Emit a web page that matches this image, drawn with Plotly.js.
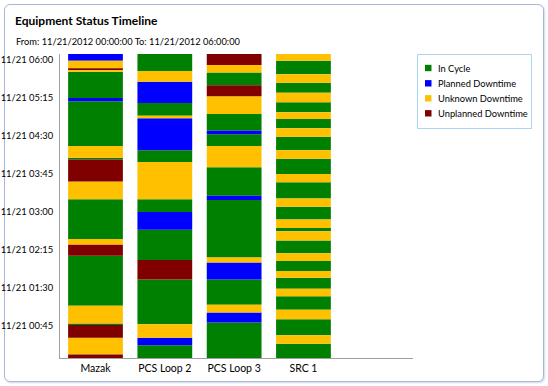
<!DOCTYPE html>
<html><head><meta charset="utf-8">
<script src="https://cdn.plot.ly/plotly-3.0.1.min.js"></script>
<style>
html,body{margin:0;padding:0;background:#fff;width:548px;height:386px;overflow:hidden;}
#frame{position:absolute;left:4px;top:4px;width:538px;height:376px;border:1px solid #a9b8d6;border-radius:6px;box-shadow:1px 1px 2px rgba(120,140,180,0.35);background:#fff;}
#chart{position:absolute;left:0;top:0;width:548px;height:386px;}
</style></head><body>
<div id="frame"></div><div id="chart"></div>
<script>
const machines = ['Mazak', 'PCS Loop 2', 'PCS Loop 3', 'SRC 1'];
const statusCodes = ['C', 'P', 'K', 'U'];
const statusNames = ['In Cycle', 'Planned Downtime', 'Unknown Downtime', 'Unplanned Downtime'];
const statusColors = ['#008000', '#0000ff', '#ffc000', '#800000'];

// minutes since 11/21/2012 00:00
const mazakEdges = [0, 4, 24, 39, 41, 62, 121, 134, 141, 188, 209, 235, 237, 251, 304, 308, 339, 341, 343, 352, 360];
const mazakStates = ['U', 'K', 'U', 'C', 'K', 'C', 'U', 'K', 'C', 'K', 'U', 'C', 'K', 'C', 'P', 'C', 'K', 'U', 'K', 'P'];

const loop2Edges = [0, 15, 24, 40, 93, 116, 152, 173, 188, 232, 246, 284, 287, 302, 327, 340, 360];
const loop2States = ['C', 'P', 'K', 'C', 'U', 'C', 'P', 'C', 'K', 'C', 'P', 'K', 'C', 'P', 'K', 'C'];

const loop3Edges = [0, 42, 54, 63, 93, 113, 119, 187, 192, 226, 251, 265, 269, 289, 310, 323, 338, 347, 360];
const loop3States = ['C', 'P', 'K', 'C', 'P', 'K', 'C', 'P', 'C', 'K', 'C', 'P', 'C', 'K', 'U', 'C', 'K', 'U'];

const src1Edges = [0, 17, 27, 46, 57, 73, 82, 95, 103, 115, 124, 139, 150, 154, 164, 179, 189, 208, 218, 236, 246, 262, 272, 283, 291, 303, 314, 326, 336, 352, 360];
const src1States = ['C', 'K', 'C', 'K', 'C', 'K', 'C', 'K', 'C', 'K', 'C', 'K', 'C', 'K', 'C', 'K', 'C', 'K', 'C', 'K', 'C', 'K', 'C', 'K', 'C', 'K', 'C', 'K', 'C', 'K'];

const tickVals = [45, 90, 135, 180, 225, 270, 315, 360];
const tickLabels = ['11/21 00:45', '11/21 01:30', '11/21 02:15', '11/21 03:00', '11/21 03:45', '11/21 04:30', '11/21 05:15', '11/21 06:00'];

const machineEdges = [mazakEdges, loop2Edges, loop3Edges, src1Edges];
const machineStates = [mazakStates, loop2States, loop3States, src1States];

const FONT = 'Lato, "Open Sans", sans-serif';

// plot-area geometry in pixels
const PL = 60, PR = 413, PT = 54, PB = 358;
const px = v => (v - PL) / (PR - PL);
const py = v => (PB - v) / (PB - PT);

const traces = statusCodes.map((code, si) => {
  const x = [], y = [], base = [];
  machineStates.forEach((states, mi) => {
    const edges = machineEdges[mi];
    states.forEach((s, k) => {
      if (s === code) {
        x.push(machines[mi]);
        base.push(edges[k]);
        y.push(edges[k + 1] - edges[k]);
      }
    });
  });
  return {
    type: 'bar', name: statusNames[si], x: x, y: y, base: base,
    width: 0.79, showlegend: false,
    marker: {color: statusColors[si], line: {width: 0}},
    hoverinfo: 'x+name'
  };
});

// custom legend (box, swatches, labels)
const shapes = [{
  type: 'rect', xref: 'paper', yref: 'paper',
  x0: px(417.5), x1: px(531.5), y0: py(54.5), y1: py(128.5),
  line: {color: '#a6d6f0', width: 1}, fillcolor: '#fff', layer: 'below'
}];
const annotations = [{
  text: 'From: 11/21/2012 00:00:00 To: 11/21/2012 06:00:00',
  xref: 'paper', yref: 'paper', x: px(14), y: py(41.5),
  xanchor: 'left', yanchor: 'middle', showarrow: false,
  font: {family: FONT, size: 9.3, color: '#000'}
}];
const legendRows = [68, 83.3, 98.3, 113.3];
statusNames.forEach((name, i) => {
  const cy = legendRows[i];
  shapes.push({
    type: 'rect', xref: 'paper', yref: 'paper',
    x0: px(425), x1: px(431.5), y0: py(cy - 3.2), y1: py(cy + 3.2),
    line: {width: 0}, fillcolor: statusColors[i]
  });
  annotations.push({
    text: name, xref: 'paper', yref: 'paper', x: px(436), y: py(cy),
    xanchor: 'left', yanchor: 'middle', showarrow: false,
    font: {family: FONT, size: 9.3, color: '#000'}
  });
});

const layout = {
  width: 548, height: 386,
  margin: {l: PL, r: 548 - PR, t: PT, b: 386 - PB, pad: 0, autoexpand: false},
  paper_bgcolor: 'rgba(0,0,0,0)', plot_bgcolor: 'rgba(0,0,0,0)',
  barmode: 'overlay',
  showlegend: false,
  font: {family: FONT, size: 11, color: '#000'},
  title: {
    text: '<b>Equipment Status Timeline</b>',
    font: {family: FONT, size: 12, color: '#000'},
    xref: 'container', yref: 'container',
    x: 15 / 548, xanchor: 'left', y: 1 - 21 / 386, yanchor: 'middle'
  },
  shapes: shapes,
  annotations: annotations,
  xaxis: {
    type: 'category', categoryarray: machines, categoryorder: 'array',
    range: [-0.512, 4.58], showgrid: false, zeroline: false, automargin: false,
    showline: true, linecolor: '#a0a0a0', linewidth: 1,
    ticks: '', tickfont: {family: FONT, size: 10.5, color: '#000'}
  },
  yaxis: {
    range: [0, 360], showgrid: false, zeroline: false, automargin: false,
    showline: true, linecolor: '#a0a0a0', linewidth: 1,
    tickmode: 'array', tickvals: tickVals, ticktext: tickLabels,
    ticks: '', ticklabelshift: 6, ticklabelstandoff: 4,
    tickfont: {family: FONT, size: 9.4, color: '#000'}
  }
};

Plotly.newPlot('chart', traces, layout, {displayModeBar: false, staticPlot: true});
</script>
</body></html>
